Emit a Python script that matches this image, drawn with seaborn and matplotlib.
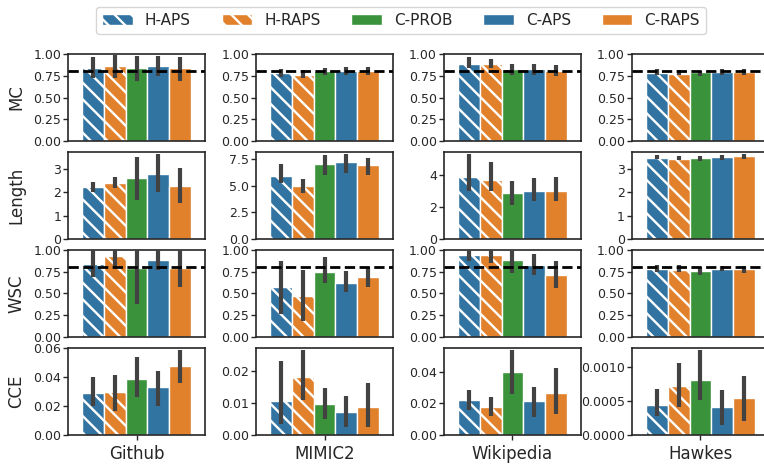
import pandas as pd
import matplotlib
matplotlib.use("Agg")
import matplotlib.pyplot as plt
import matplotlib.patches as mpatches
import seaborn as sns

sns.set_theme(style="ticks")
plt.rcParams["hatch.linewidth"] = 1.7

# data: one list per dataset (Github, MIMIC2, Wikipedia, Hawkes), 5 methods each
methods = ["H-APS", "H-RAPS", "C-PROB", "C-APS", "C-RAPS"]
datasets = ["Github", "MIMIC2", "Wikipedia", "Hawkes"]
colors = ["tab:blue", "tab:orange", "tab:green", "tab:blue", "tab:orange"]
hatched = ["H-APS", "H-RAPS"]

mc_mean = [[0.842, 0.858, 0.838, 0.860, 0.838],
           [0.777, 0.762, 0.800, 0.808, 0.804],
           [0.885, 0.885, 0.827, 0.827, 0.808],
           [0.785, 0.773, 0.790, 0.790, 0.796]]
mc_lo = [[0.72, 0.72, 0.69, 0.746, 0.69],
         [0.738, 0.72, 0.754, 0.754, 0.754],
         [0.835, 0.84, 0.758, 0.76, 0.75],
         [0.762, 0.758, 0.75, 0.758, 0.754]]
mc_hi = [[0.96, 0.99, 0.977, 0.977, 0.96],
         [0.827, 0.82, 0.838, 0.854, 0.846],
         [0.96, 0.94, 0.89, 0.89, 0.877],
         [0.823, 0.815, 0.80, 0.823, 0.823]]

len_mean = [[2.22, 2.40, 2.60, 2.77, 2.26],
            [5.94, 4.95, 7.07, 7.19, 6.91],
            [3.84, 3.65, 2.85, 2.97, 2.97],
            [3.47, 3.42, 3.44, 3.48, 3.52]]
len_lo = [[2.02, 2.18, 1.66, 2.02, 1.56],
          [5.2, 4.33, 6.04, 6.22, 6.0],
          [2.99, 2.99, 2.14, 2.39, 2.35],
          [3.40, 3.35, 3.31, 3.38, 3.40]]
len_hi = [[2.46, 2.67, 3.51, 3.64, 3.06],
          [7.0, 5.66, 7.87, 8.0, 7.63],
          [5.26, 4.76, 3.57, 3.79, 3.86],
          [3.59, 3.55, 3.52, 3.58, 3.61]]

wsc_mean = [[0.84, 0.935, 0.79, 0.889, 0.794],
            [0.576, 0.469, 0.752, 0.626, 0.695],
            [0.939, 0.947, 0.889, 0.828, 0.718],
            [0.782, 0.775, 0.763, 0.786, 0.786]]
wsc_lo = [[0.69, 0.80, 0.374, 0.775, 0.573],
          [0.267, 0.183, 0.626, 0.515, 0.573],
          [0.87, 0.855, 0.733, 0.714, 0.561],
          [0.744, 0.744, 0.718, 0.756, 0.737]]
wsc_hi = [[1.0, 1.0, 1.0, 1.0, 1.0],
          [0.87, 0.775, 0.916, 0.76, 0.80],
          [1.0, 1.0, 1.0, 0.954, 0.878],
          [0.824, 0.824, 0.80, 0.817, 0.817]]

cce_mean = [[0.029, 0.0294, 0.0384, 0.0329, 0.0474],
            [0.0106, 0.018, 0.0095, 0.007, 0.0086],
            [0.0218, 0.0174, 0.040, 0.0212, 0.0268],
            [0.000434, 0.000727, 0.000815, 0.000405, 0.000551]]
cce_lo = [[0.0198, 0.0163, 0.026, 0.0202, 0.0359],
          [0.0035, 0.0109, 0.0049, 0.0024, 0.0026],
          [0.0157, 0.0117, 0.026, 0.0113, 0.0134],
          [0.000273, 0.000405, 0.000512, 0.000146, 0.0002]]
cce_hi = [[0.0398, 0.0418, 0.0543, 0.0444, 0.059],
          [0.0229, 0.0264, 0.0147, 0.012, 0.016],
          [0.0281, 0.0237, 0.0536, 0.0304, 0.0421],
          [0.000673, 0.00106, 0.00125, 0.000668, 0.000873]]

# axis limits / ticks
unit_ticks = [0, 0.25, 0.5, 0.75, 1.0]
len_top = [3.73, 8.15, 5.4, 3.71]
len_ticks = [[0, 1, 2, 3], [0, 2.5, 5, 7.5], [0, 2, 4], [0, 1, 2, 3]]
cce_top = [0.0602, 0.027, 0.0549, 0.00128]
cce_ticks = [[0, 0.02, 0.04, 0.06], [0, 0.01, 0.02], [0, 0.02, 0.04], [0, 0.0005, 0.001]]

rows = [
    ("MC", mc_mean, mc_lo, mc_hi, [1.0] * 4, [unit_ticks] * 4, True),
    ("Length", len_mean, len_lo, len_hi, len_top, len_ticks, False),
    ("WSC", wsc_mean, wsc_lo, wsc_hi, [1.0] * 4, [unit_ticks] * 4, True),
    ("CCE", cce_mean, cce_lo, cce_hi, cce_top, cce_ticks, False),
]

palette = dict(zip(methods, colors))

fig, axes = plt.subplots(4, 4, figsize=(7.64, 4.65), dpi=100)
fig.subplots_adjust(left=68 / 764, right=769 / 764, top=1 - 54 / 465,
                    bottom=1 - 435 / 465, wspace=0.372, hspace=0.126)

for i, (name, means, los, his, tops, ticks, target) in enumerate(rows):
    for j, ds in enumerate(datasets):
        ax = axes[i, j]
        df = pd.DataFrame({"dataset": ds, "method": methods, "value": means[j]})
        sns.barplot(data=df, x="dataset", y="value", hue="method",
                    hue_order=methods, palette=palette, errorbar=None,
                    edgecolor="white", linewidth=1, legend=False, ax=ax)
        for k, bar in enumerate(ax.patches):
            if methods[k] in hatched:
                bar.set_hatch("\\\\")
            xc = bar.get_x() + bar.get_width() / 2
            ax.vlines(xc, los[j][k], his[j][k], color=".26", lw=3, zorder=3)
        if target:
            ax.axhline(0.8, color="black", ls="--", lw=2, zorder=4)
        ax.set_xlim(-0.5, 0.5)
        ax.set_ylim(0, tops[j])
        ax.set_yticks(ticks[j])
        ax.tick_params(axis="y", labelsize=9, length=3.5, width=1, pad=1.5)
        ax.set_xlabel("")
        ax.set_ylabel("")
        for s in ax.spines.values():
            s.set_linewidth(1.2)
        if i < 3:
            ax.tick_params(axis="x", bottom=False, labelbottom=False)
        else:
            ax.tick_params(axis="x", labelsize=12, length=3.5, width=1)
        if j == 0:
            ax.set_ylabel(name, fontsize=12)
            ax.yaxis.set_label_coords(-0.31, 0.5)

# legend built from the same colours as the bars
handles = []
for m, c in zip(methods, axes[0, 0].patches):
    h = mpatches.Patch(facecolor=c.get_facecolor(), edgecolor="white",
                       hatch="\\\\" if m in hatched else None, label=m)
    handles.append(h)
fig.legend(handles=handles, loc="center", bbox_to_anchor=(401 / 764, 1 - 20.5 / 465),
           ncol=5, fontsize=11, columnspacing=2.0, frameon=True)

fig.savefig("out.png", dpi=100)
